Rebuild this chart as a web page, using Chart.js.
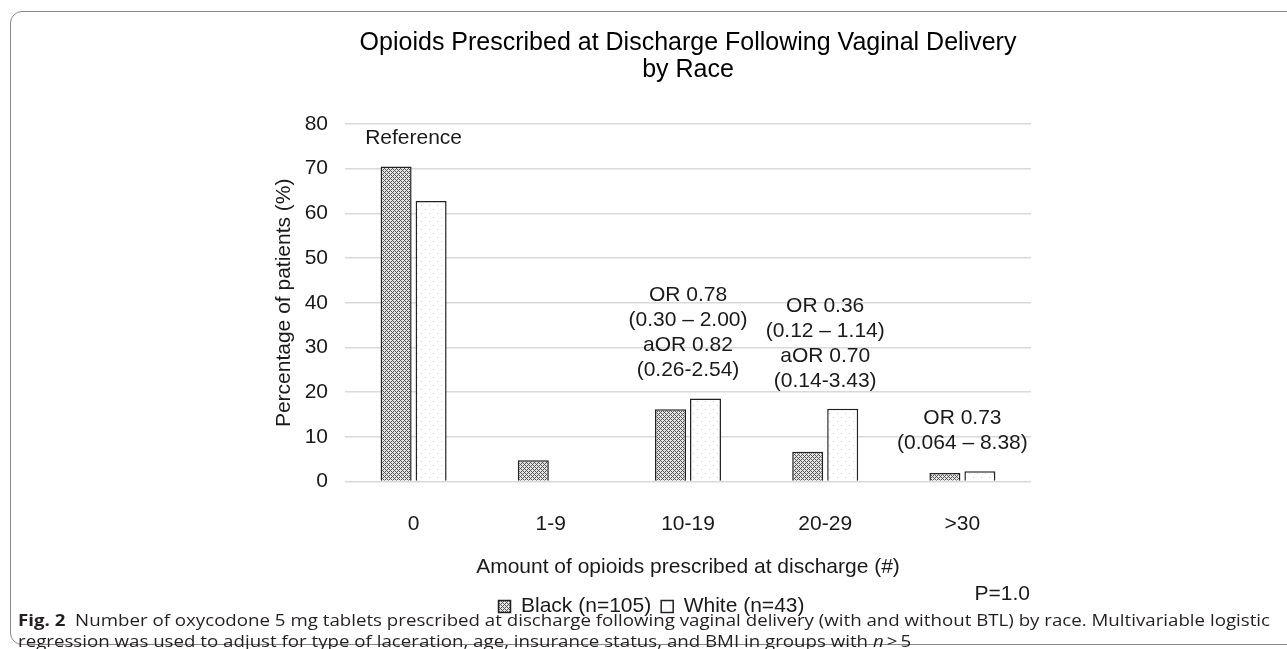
<!DOCTYPE html>
<html>
<head>
<meta charset="utf-8">
<script src="https://cdn.jsdelivr.net/npm/chart.js@4.4.0/dist/chart.umd.min.js"></script>
<style>
    html, body { margin: 0; padding: 0; background: #fff; }
    body { width: 1287px; height: 649px; position: relative; overflow: hidden; }
    #frame {
        position: absolute; left: 10px; top: 11px; width: 1300px; height: 634px;
        border: 1.5px solid #8a8a8a; border-radius: 12px; box-sizing: border-box;
    }
    #chartWrap { position: absolute; left: 0; top: 0; width: 1287px; height: 649px; }
    #caption {
        position: absolute; left: 18px; top: 609px; white-space: nowrap;
        font-family: 'Open Sans', sans-serif; font-size: 16.5px; line-height: 21px;
        color: #231f20; transform-origin: 0 0;
    }
    #caption b { font-weight: 700; }
</style>
</head>
<body>
<div id="frame"></div>
<div id="chartWrap"><canvas id="opioidChart" width="1287" height="649"></canvas></div>
<div id="caption">
    <div id="capLine1"><b>Fig. 2</b>&nbsp; Number of oxycodone 5 mg tablets prescribed at discharge following vaginal delivery (with and without BTL) by race. Multivariable logistic</div>
    <div>regression was used to adjust for type of laceration, age, insurance status, and BMI in groups with <i>n</i>&#8201;&gt;&#8201;5</div>
</div>
<script>
// 数値データ
const categories = ['0', '1-9', '10-19', '20-29', '>30'];
const blackValues = [70.5, 4.8, 16.2, 6.7, 1.9];
const whiteValues = [62.8, 0, 18.6, 16.3, 2.3];
const seriesLabels = ['Black (n=105)', 'White (n=43)'];
const yTicks = [0, 10, 20, 30, 40, 50, 60, 70, 80];

// 各カテゴリ上の注釈
const annotationLines = [
    ['Reference'],
    [],
    ['OR 0.78', '(0.30 \u2013 2.00)', 'aOR 0.82', '(0.26-2.54)'],
    ['OR 0.36', '(0.12 \u2013 1.14)', 'aOR 0.70', '(0.14-3.43)'],
    ['OR 0.73', '(0.064 \u2013 8.38)']
];
const pValueText = 'P=1.0';

const FONT = "'Liberation Sans', Arial, sans-serif";
const TEXT_COLOR = '#1a1a1a';

/**
 * ハッチングパターンを作成
 */
function makePattern(kind) {
    const c = document.createElement('canvas');
    const size = kind === 'black' ? 4 : 8;
    c.width = size;
    c.height = size;
    const g = c.getContext('2d');
    if (kind === 'black') {
        g.fillStyle = '#e4e4e4';
        g.fillRect(0, 0, size, size);
        g.fillStyle = '#585858';
        for (let x = 0; x < size; x++) {
            for (let y = 0; y < size; y++) {
                if ((x + y) % 4 === 0 || (x - y + 4) % 4 === 0) g.fillRect(x, y, 1, 1);
            }
        }
    } else {
        g.fillStyle = '#ffffff';
        g.fillRect(0, 0, size, size);
        g.fillStyle = '#d4d4d4';
        g.fillRect(1, 1, 1, 1);
        g.fillRect(5, 5, 1, 1);
    }
    return g.createPattern(c, 'repeat');
}

// 注釈とP値を描画するプラグイン
const annotationPlugin = {
    id: 'annotations',
    afterDatasetsDraw(chart) {
        const { ctx, scales: { x, y }, chartArea } = chart;
        const lineH = 25;
        ctx.save();
        ctx.font = `21px ${FONT}`;
        ctx.fillStyle = TEXT_COLOR;
        ctx.textAlign = 'center';
        ctx.textBaseline = 'middle';
        annotationLines.forEach((lines, i) => {
            if (!lines.length) return;
            const tallest = Math.max(blackValues[i], whiteValues[i]);
            const lastY = y.getPixelForValue(tallest) - 28;
            const cx = x.getPixelForValue(i);
            lines.forEach((txt, j) => {
                ctx.fillText(txt, cx, lastY - (lines.length - 1 - j) * lineH);
            });
        });
        ctx.textAlign = 'right';
        ctx.fillText(pValueText, chartArea.right - 1, chartArea.bottom + 113);
        ctx.restore();
    }
};

document.addEventListener('DOMContentLoaded', () => {
    const ctx = document.getElementById('opioidChart').getContext('2d');

    new Chart(ctx, {
        type: 'bar',
        data: {
            labels: categories,
            datasets: [
                {
                    label: seriesLabels[0],
                    data: blackValues,
                    backgroundColor: makePattern('black'),
                    borderColor: '#222222',
                    borderWidth: 1.5,
                    categoryPercentage: 0.51,
                    barPercentage: 0.886
                },
                {
                    label: seriesLabels[1],
                    data: whiteValues,
                    backgroundColor: makePattern('white'),
                    borderColor: '#222222',
                    borderWidth: 1.5,
                    categoryPercentage: 0.51,
                    barPercentage: 0.886
                }
            ]
        },
        options: {
            responsive: false,
            animation: false,
            events: [],
            layout: {
                padding: { left: 272, right: 256, top: 0, bottom: 22 }
            },
            plugins: {
                title: {
                    display: true,
                    fullSize: false,
                    text: ['Opioids Prescribed at Discharge Following Vaginal Delivery', 'by Race'],
                    color: '#000000',
                    font: { family: FONT, size: 25, weight: 'normal', lineHeight: 1.08 },
                    padding: { top: 29.5, bottom: 40.5 }
                },
                legend: {
                    display: true,
                    position: 'bottom',
                    labels: {
                        color: TEXT_COLOR,
                        font: { family: FONT, size: 21 },
                        boxWidth: 12,
                        boxHeight: 12,
                        padding: 10
                    }
                },
                tooltip: { enabled: false }
            },
            scales: {
                x: {
                    grid: { display: false, drawTicks: false },
                    border: { display: false },
                    ticks: {
                        color: TEXT_COLOR,
                        font: { family: FONT, size: 21 },
                        padding: 30
                    },
                    title: {
                        display: true,
                        text: 'Amount of opioids prescribed at discharge (#)',
                        color: TEXT_COLOR,
                        font: { family: FONT, size: 21 },
                        padding: { top: 0, bottom: 6 }
                    },
                    afterFit(scale) { scale.height = 104.4; }
                },
                y: {
                    min: 0,
                    max: 80,
                    grid: { color: '#d9d9d9', lineWidth: 1.5, drawTicks: false },
                    border: { display: false },
                    afterBuildTicks(scale) { scale.ticks = yTicks.map(v => ({ value: v })); },
                    ticks: {
                        color: TEXT_COLOR,
                        font: { family: FONT, size: 21 },
                        padding: 17
                    },
                    title: {
                        display: true,
                        text: 'Percentage of patients (%)',
                        color: TEXT_COLOR,
                        font: { family: FONT, size: 21 },
                        padding: { top: 0, bottom: 0 }
                    },
                    afterFit(scale) { scale.width = 73; }
                }
            }
        },
        plugins: [annotationPlugin]
    });

    // キャプション幅を合わせる
    const cap = document.getElementById('caption');
    const line1 = document.getElementById('capLine1');
    const w = line1.getBoundingClientRect().width;
    cap.style.transform = `scaleX(${1252 / w})`;
});
</script>
</body>
</html>
